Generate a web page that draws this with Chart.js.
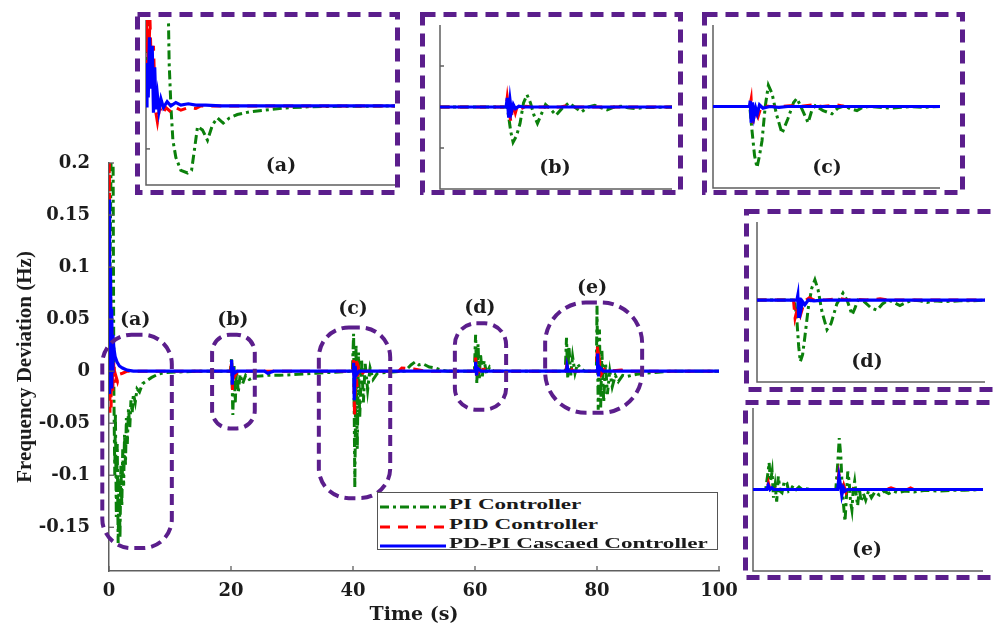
<!DOCTYPE html>
<html>
<head>
<meta charset="utf-8">
<script src="https://cdn.jsdelivr.net/npm/chart.js@4.4.0/dist/chart.umd.min.js"></script>
<style>
  html, body { margin: 0; padding: 0; background: #fff; }
  body { width: 997px; height: 626px; overflow: hidden; position: relative; }
  #mainBox { position: absolute; left: 0; top: 0; width: 997px; height: 626px; }
  .inset { position: absolute; }
  #legend { position: absolute; left: 377px; top: 492px; width: 339px; height: 56px;
            border: 1px solid #555; background: #fff; }
  .row { position: absolute; left: 0; width: 339px; height: 20px; }
  .row svg { position: absolute; left: 0; top: 0; }
  .row span { position: absolute; left: 71px; top: 0; line-height: 20px; white-space: nowrap;
              font: bold 14px "Liberation Serif", serif; color: #1a1a1a;
              transform: scaleX(1.65); transform-origin: left center; }
</style>
</head>
<body>
<div id="mainBox"><canvas id="mainChart"></canvas></div>
<div id="legend"></div>

<script>
// ---- data ----
const seriesNames = ['PI Controller', 'PID Controller', 'PD-PI Cascaed Controller'];
const xTickValues = [0, 20, 40, 60, 80, 100];
const yTickValues = [-0.15, -0.1, -0.05, 0, 0.05, 0.1, 0.15, 0.2];

// main plot, [time s, deviation Hz]
const mainPI = [
  [0,0],[0.5,0.3],[0.65,0.24],[0.8,-0.02],[0.95,-0.1],[1.05,-0.04],[1.2,-0.14],[1.35,-0.07],[1.5,-0.165],
  [1.65,-0.1],[1.8,-0.16],[1.95,-0.09],[2.1,-0.13],[2.25,-0.075],[2.4,-0.11],[2.55,-0.06],[2.7,-0.09],
  [2.85,-0.045],[3.0,-0.07],[3.2,-0.035],[3.4,-0.055],[3.6,-0.028],[3.8,-0.04],[4.0,-0.022],[4.3,-0.03],
  [4.6,-0.017],[5.0,-0.02],[5.5,-0.012],[6.0,-0.01],[7.0,-0.006],[8.0,-0.003],[9.0,-0.0015],[10,-0.001],
  [15,0],[19.9,0],[20.1,0.013],[20.3,-0.042],[20.5,0.005],[20.7,-0.03],[20.9,0],[21.2,-0.02],[21.5,-0.003],
  [21.9,-0.012],[22.4,-0.004],[23,-0.008],[24,-0.005],[26,-0.004],[28,-0.004],[31,-0.003],[34,-0.002],
  [37,-0.001],[39.9,0],[40.1,0.036],[40.3,-0.112],[40.5,0.025],[40.7,-0.075],[40.9,0.018],[41.1,-0.045],
  [41.4,0.012],[41.7,-0.03],[42.0,0.007],[42.4,-0.018],[42.8,0.003],[43.3,-0.008],[44,-0.002],[46,-0.001],
  [48.5,0],[49.5,0.006],[50.2,0.009],[50.8,0.006],[51.5,0.007],[52.5,0.004],[53.5,0.003],[54.5,0.001],
  [55.5,0],[59.9,0],[60.1,0.035],[60.3,-0.012],[60.5,0.026],[60.7,-0.008],[60.9,0.017],[61.2,-0.005],
  [61.5,0.01],[61.9,-0.002],[62.4,0.004],[63,0],[74.8,0],[75.0,0.032],[75.2,-0.006],[75.4,0.024],
  [75.7,-0.004],[76.0,0.014],[76.4,-0.002],[76.8,0.007],[77.4,0.002],[78,0],[79.9,0],[80.0,0.063],
  [80.2,-0.037],[80.4,0.04],[80.6,-0.035],[80.8,0.02],[81.1,-0.03],[81.4,0.008],[81.7,-0.022],[82.1,0],
  [82.5,-0.015],[83,-0.004],[83.5,-0.01],[84.2,-0.004],[85,-0.005],[86.5,-0.003],[88,-0.002],[90,-0.001],
  [92,0],[100,0]
];
const mainPID = [
  [0,0],[0.05,0.25],[0.15,-0.04],[0.25,0.1],[0.35,-0.035],[0.45,0.04],[0.6,-0.02],[0.8,0.01],[1.0,-0.012],
  [1.2,-0.006],[1.4,-0.01],[1.7,-0.003],[2.2,-0.002],[3,0],[19.95,0],[20.1,0.011],[20.25,-0.018],
  [20.45,0.004],[20.7,-0.004],[21.2,0.001],[22,0],[39.95,0],[40.1,0.012],[40.25,-0.044],[40.45,0.01],
  [40.65,-0.015],[40.9,0.004],[41.3,-0.003],[42,0],[47.5,0],[48,0.003],[50,0.002],[52,0],[59.95,0],
  [60.1,0.013],[60.3,-0.004],[60.5,0.007],[60.8,0],[61.5,0.002],[62.5,0],[74.9,0],[75.05,0.006],[75.3,0],
  [75.6,0.003],[76.2,0],[79.9,0],[80.05,0.025],[80.25,-0.006],[80.45,0.008],[80.7,-0.003],[81.2,0.002],
  [82,0],[84,0.001],[85.5,0],[100,0]
];
const mainCascade = [
  [0,0],[0.05,0.165],[0.15,-0.022],[0.25,0.1],[0.35,-0.015],[0.45,0.06],[0.55,0],[0.65,0.035],[0.8,0.022],
  [1.0,0.014],[1.3,0.009],[1.7,0.005],[2.2,0.003],[3,0.001],[4,0],[20.0,0],[20.1,0.011],[20.2,-0.013],
  [20.35,0.004],[20.5,-0.002],[21,0],[25.5,0],[26,-0.002],[27,0],[40.0,0],[40.1,0.008],[40.2,-0.028],
  [40.35,0.005],[40.5,-0.004],[41,0],[60.0,0],[60.1,0.009],[60.25,-0.004],[60.4,0.003],[61,0],[75.0,0],
  [75.1,0.005],[75.3,0],[80.0,0],[80.1,0.017],[80.25,-0.005],[80.4,0.004],[81,0],[100,0]
];

// zoomed insets, [% of window, relative deviation]
const insetA_PI = [
  [0,0],[0.4,0.9],[3,1.4],[8.8,1.4],[9.3,0.5],[10,0],[10.8,-0.4],[12,-0.6],[14,-0.75],[16.7,-0.78],
  [18.3,-0.75],[19.5,-0.5],[20.7,-0.24],[22.7,-0.28],[24.7,-0.4],[26.7,-0.22],[28.7,-0.14],[31,-0.2],
  [33.5,-0.14],[36.7,-0.1],[41.4,-0.07],[47.4,-0.05],[55.4,-0.025],[65,-0.01],[77,-0.005],[100,0]
];
const insetA_PID = [
  [0,0],[0.3,1.05],[1.0,0.5],[1.6,1.0],[2.3,0.3],[3.0,0.7],[3.8,-0.05],[4.6,-0.19],[5.5,-0.02],[6.5,-0.1],
  [8,-0.02],[10,-0.07],[12,-0.02],[14,-0.05],[17,-0.02],[20,-0.03],[22,0],[100,0]
];
const insetA_Cascade = [
  [0,0],[0.4,0.5],[0.9,0.1],[1.4,0.8],[2.0,0.2],[2.5,0.7],[3.0,-0.08],[3.5,0.45],[4.0,-0.04],[4.6,0.12],
  [5.2,-0.06],[6,0.08],[7,-0.02],[8.5,0.05],[10,0],[12,0.04],[14,0.01],[17,0.025],[20,0.01],[24,0.01],
  [30,0],[100,0]
];
const insetB_PI = [
  [0,0],[29,0],[30.5,-0.3],[31.5,-0.43],[33,-0.35],[34.5,-0.2],[36,0.05],[37.5,0.15],[39,0.05],[40.5,-0.1],
  [42,-0.2],[43.5,-0.1],[45.5,0.03],[47.5,-0.02],[50,-0.1],[52.5,-0.02],[55.5,0.05],[58,0],[61,-0.06],
  [64,0],[66.7,0.02],[69.5,-0.01],[72,-0.035],[75,0],[78,0.01],[81,-0.01],[84,-0.02],[88,-0.005],
  [93,-0.005],[100,0]
];
const insetB_PID = [
  [0,0],[28.5,0],[29,0.12],[30,-0.1],[30.6,-0.18],[31.5,0.05],[32.5,-0.07],[33.5,0.03],[35,-0.02],
  [37,0.01],[40,0],[52,0],[55,0.02],[58,0],[100,0]
];
const insetB_Cascade = [
  [0,0],[28.5,0],[29,0.11],[29.6,-0.13],[30.2,0.08],[30.8,-0.06],[31.6,0.03],[32.5,-0.02],[34,0.01],
  [36,0],[100,0]
];
const insetC_PI = [
  [0,0],[16.2,0],[17.2,-0.3],[18.3,-0.6],[19.4,-0.75],[20.5,-0.6],[21.6,-0.42],[23,0],[24.4,0.26],
  [26,0.16],[28,-0.1],[30.4,-0.33],[33,-0.15],[35.5,0.05],[37,0.1],[39.5,-0.05],[41.9,-0.2],[43.5,-0.05],
  [45,0.01],[48.5,-0.05],[52.4,-0.09],[55,-0.02],[58,0.01],[60.5,-0.03],[63.4,-0.05],[66,-0.01],[69,0],
  [73,-0.01],[78,-0.02],[83,-0.01],[87,0],[92,-0.01],[100,0]
];
const insetC_PID = [
  [0,0],[16.2,0],[16.8,0.09],[17.4,-0.23],[18.5,-0.05],[19.8,-0.13],[21,-0.02],[22,0.01],[25,0],[30,0],
  [34,0.01],[38,0],[44,0.02],[48,0],[54.6,0.02],[58,0],[100,0]
];
const insetC_Cascade = [
  [0,0],[16.1,0],[16.4,0.07],[16.8,-0.2],[17.4,0.05],[18.1,-0.12],[18.8,-0.02],[19.5,-0.09],[20.5,0.02],
  [22,-0.02],[25,0],[29,-0.01],[33,0],[100,0]
];
const insetD_PI = [
  [0,0],[16.5,0],[17.5,-0.26],[18.3,-0.6],[19,-0.79],[20,-0.7],[21,-0.47],[22.5,-0.1],[24,0.15],
  [25.4,0.26],[26.8,0.13],[28.5,-0.15],[30.7,-0.38],[32.5,-0.3],[35,-0.05],[37.7,0.09],[39.5,0],
  [41.7,-0.19],[43,-0.1],[44.3,0],[47,-0.02],[50,-0.1],[52.6,-0.13],[55,-0.05],[57.5,0],[60,-0.03],
  [62.7,-0.07],[65.5,-0.03],[68.4,0],[71.5,-0.01],[74.6,-0.03],[78,-0.01],[82,-0.02],[89,-0.01],
  [95,-0.01],[100,0]
];
const insetD_PID = [
  [0,0],[16,0],[16.7,-0.23],[17.8,-0.1],[19,-0.2],[20,-0.1],[21.5,0],[23,0.03],[25,0],[30,0],[36,0.02],
  [40,0],[44,0.01],[48,0],[54,0.015],[58,0],[100,0]
];
const insetD_Cascade = [
  [0,0],[17.5,0],[17.9,0.06],[18.3,-0.23],[18.8,0.03],[19.3,-0.12],[20,-0.02],[21,-0.06],[22.5,0],
  [25,-0.01],[29,0],[100,0]
];
const insetE_PI = [
  [0,0],[5.5,0],[6.5,0.2],[7,0.33],[7.6,0.1],[8.3,0.22],[8.9,-0.1],[9.6,0.05],[10.3,-0.15],[11,0.16],
  [11.8,-0.02],[12.6,-0.04],[13.6,0.1],[14.7,0.08],[15.5,-0.02],[16.5,0],[17.5,0.05],[18.8,0],[20,0.03],
  [21.3,0],[23,0.01],[25,0],[36,0],[36.8,0.3],[37.5,0.63],[38.2,0.4],[38.8,0],[39.4,-0.2],[40,-0.39],
  [40.6,-0.1],[41.2,0.22],[41.8,0.1],[42.4,-0.15],[43,-0.25],[43.6,0],[44.2,0.1],[44.8,-0.05],[45.5,-0.2],
  [46.2,0.02],[47,-0.15],[48,-0.05],[49,-0.13],[50.2,-0.02],[51.5,-0.1],[53,-0.03],[55,-0.07],[57,-0.02],
  [59,-0.05],[61,-0.02],[63,-0.04],[66,-0.02],[70,-0.03],[75,-0.01],[80,-0.02],[86,-0.01],[92,-0.01],
  [100,0]
];
const insetE_PID = [
  [0,0],[6,0],[6.7,0.08],[7.5,-0.02],[8.5,0.03],[10,0],[36.5,0],[37.3,0.2],[38,0.1],[38.7,-0.06],
  [39.5,0.05],[40.5,-0.04],[42,0.02],[44,0],[58,0],[60,0.02],[62,0],[67,0],[68.5,0.02],[70,0],[100,0]
];
const insetE_Cascade = [
  [0,0],[6,0],[6.6,0.05],[7.4,0],[8.2,0.02],[9,0],[36.8,0],[37.4,0.16],[38,0.06],[38.6,-0.07],
  [39.3,0.02],[40,-0.02],[41,0],[100,0]
];

// ---- styling ----
const GREEN = '#0b800b';
const RED = '#ff0000';
const BLUE = '#0000ff';
const PURPLE = '#5b1e8c';
const AXIS = '#5f5f5f';
const TEXT = '#1c1c1c';
const lineStyles = [
  { color: GREEN, dash: [9, 4, 3, 4], width: 3 },
  { color: RED, dash: [10, 8], width: 3 },
  { color: BLUE, dash: [], width: 3.2 }
];

const toXY = pts => pts.map(p => ({ x: p[0], y: p[1] }));

const makeDatasets = (pi, pid, cas) => [
  { label: seriesNames[0], data: toXY(pi), borderColor: GREEN, borderDash: lineStyles[0].dash, borderWidth: lineStyles[0].width, order: 3 },
  { label: seriesNames[1], data: toXY(pid), borderColor: RED, borderDash: lineStyles[1].dash, borderWidth: lineStyles[1].width, order: 2 },
  { label: seriesNames[2], data: toXY(cas), borderColor: BLUE, borderWidth: lineStyles[2].width, order: 1 }
];

// dashed rounded marks on the main plot (data units)
const regions = [
  { label: '(a)', x0: -1.1, x1: 10.3, y0: 0.035, y1: -0.17, lx: 4.3, ly: 0.049 },
  { label: '(b)', x0: 16.9, x1: 23.9, y0: 0.035, y1: -0.055, lx: 20.3, ly: 0.049 },
  { label: '(c)', x0: 34.4, x1: 46.1, y0: 0.042, y1: -0.122, lx: 40.0, ly: 0.06 },
  { label: '(d)', x0: 56.7, x1: 65.1, y0: 0.046, y1: -0.037, lx: 60.8, ly: 0.061 },
  { label: '(e)', x0: 71.5, x1: 87.4, y0: 0.066, y1: -0.040, lx: 79.2, ly: 0.080 }
];

const innerTicks = {
  id: 'innerTicks',
  afterDraw(chart) {
    const { ctx, chartArea, scales } = chart;
    ctx.save();
    ctx.strokeStyle = AXIS;
    ctx.lineWidth = 1.3;
    scales.x.ticks.forEach(t => {
      const px = scales.x.getPixelForValue(t.value);
      ctx.beginPath(); ctx.moveTo(px, chartArea.bottom); ctx.lineTo(px, chartArea.bottom - 5); ctx.stroke();
    });
    scales.y.ticks.forEach(t => {
      const py = scales.y.getPixelForValue(t.value);
      ctx.beginPath(); ctx.moveTo(chartArea.left, py); ctx.lineTo(chartArea.left + 5, py); ctx.stroke();
    });
    ctx.restore();
  }
};

const regionMarks = {
  id: 'regionMarks',
  afterDatasetsDraw(chart) {
    const { ctx, scales } = chart;
    ctx.save();
    regions.forEach(r => {
      const x0 = scales.x.getPixelForValue(r.x0), x1 = scales.x.getPixelForValue(r.x1);
      const y0 = scales.y.getPixelForValue(r.y0), y1 = scales.y.getPixelForValue(r.y1);
      const w = x1 - x0, h = y1 - y0;
      const rad = 0.42 * Math.min(w, h);
      ctx.strokeStyle = PURPLE;
      ctx.lineWidth = 4;
      ctx.setLineDash([11, 6]);
      ctx.beginPath();
      ctx.roundRect(x0, y0, w, h, rad);
      ctx.stroke();
      ctx.setLineDash([]);
      ctx.fillStyle = TEXT;
      ctx.font = 'bold 19px "DejaVu Serif"';
      ctx.textAlign = 'center';
      ctx.textBaseline = 'middle';
      ctx.fillText(r.label, scales.x.getPixelForValue(r.lx), scales.y.getPixelForValue(r.ly));
    });
    ctx.restore();
  }
};

const tickFont = { family: 'DejaVu Serif', weight: 'bold', size: 18 };

new Chart(document.getElementById('mainChart'), {
  type: 'line',
  data: { datasets: makeDatasets(mainPI, mainPID, mainCascade) },
  options: {
    responsive: true,
    maintainAspectRatio: false,
    animation: false,
    layout: { padding: { left: 0, top: 163, right: 278, bottom: 0 } },
    elements: { point: { radius: 0 }, line: { tension: 0 } },
    plugins: { legend: { display: false }, tooltip: { enabled: false } },
    scales: {
      x: {
        type: 'linear', min: 0, max: 100,
        afterBuildTicks: s => { s.ticks = xTickValues.map(v => ({ value: v })); },
        afterFit: s => { s.height = 55; },
        ticks: { font: tickFont, color: TEXT, padding: 2, maxRotation: 0 },
        grid: { display: false },
        border: { color: AXIS, width: 1.5 },
        title: { display: true, text: 'Time (s)', color: TEXT, padding: { top: 0, bottom: 0 },
                 font: { family: 'DejaVu Serif', weight: 'bold', size: 19 } }
      },
      y: {
        type: 'linear', min: -0.192, max: 0.2,
        afterBuildTicks: s => { s.ticks = yTickValues.map(v => ({ value: v })); },
        afterFit: s => { s.width = 109; },
        ticks: { font: tickFont, color: TEXT, padding: 11, callback: v => String(Number(v.toFixed(2))) },
        grid: { display: false },
        border: { color: AXIS, width: 1.5 },
        title: { display: true, text: 'Frequency Deviation (Hz)', color: TEXT, padding: { top: 13, bottom: 0 },
                 font: { family: 'Liberation Serif', weight: 'bold', size: 21 } }
      }
    }
  },
  plugins: [innerTicks, regionMarks]
});

// ---- insets ----
const insetFrame = {
  id: 'insetFrame',
  beforeDatasetsDraw(chart, args, opts) {
    const { ctx, width, height, chartArea, scales } = chart;
    ctx.save();
    ctx.strokeStyle = PURPLE;
    ctx.lineWidth = 5;
    ctx.setLineDash([13, 8]);
    ctx.strokeRect(2.5, 2.5, width - 5, height - 5);
    ctx.setLineDash([]);
    ctx.strokeStyle = AXIS;
    ctx.lineWidth = 1.5;
    ctx.beginPath();
    ctx.moveTo(chartArea.left, chartArea.top);
    ctx.lineTo(chartArea.left, chartArea.bottom);
    ctx.lineTo(chartArea.right, chartArea.bottom);
    ctx.stroke();
    (opts.ticks || []).forEach(v => {
      const py = scales.y.getPixelForValue(v);
      ctx.beginPath(); ctx.moveTo(chartArea.left, py); ctx.lineTo(chartArea.left + 4, py); ctx.stroke();
    });
    ctx.fillStyle = TEXT;
    ctx.font = 'bold 19px "DejaVu Serif"';
    ctx.textAlign = 'center';
    ctx.textBaseline = 'middle';
    ctx.fillText(opts.label, opts.lx, opts.ly);
    ctx.restore();
  }
};

const insets = [
  { label: '(a)', box: [135, 12, 265, 183], pad: [11, 8, 5, 10], y: [-0.92, 1], lab: [146, 154], ticks: [-0.5], data: [insetA_PI, insetA_PID, insetA_Cascade] },
  { label: '(b)', box: [420, 12, 263, 183], pad: [20, 13, 11, 6], y: [-1, 1], lab: [135, 156], ticks: [-0.5, 0.5], data: [insetB_PI, insetB_PID, insetB_Cascade] },
  { label: '(c)', box: [702, 12, 263, 183], pad: [11, 13, 25, 7], y: [-1, 1], lab: [125, 156], ticks: [], data: [insetC_PI, insetC_PID, insetC_Cascade] },
  { label: '(d)', box: [744, 209, 270, 183], pad: [13, 13, 29, 10], y: [-1.05, 1], lab: [123, 153], ticks: [], data: [insetD_PI, insetD_PID, insetD_Cascade] },
  { label: '(e)', box: [743, 400, 271, 180], pad: [10, 8, 31, 9], y: [-1, 1], lab: [124, 150], ticks: [], data: [insetE_PI, insetE_PID, insetE_Cascade] }
];

insets.forEach(ins => {
  const div = document.createElement('div');
  div.className = 'inset';
  div.style.left = ins.box[0] + 'px';
  div.style.top = ins.box[1] + 'px';
  div.style.width = ins.box[2] + 'px';
  div.style.height = ins.box[3] + 'px';
  const cv = document.createElement('canvas');
  div.appendChild(cv);
  document.body.appendChild(div);
  new Chart(cv, {
    type: 'line',
    data: { datasets: makeDatasets(ins.data[0], ins.data[1], ins.data[2]) },
    options: {
      responsive: true,
      maintainAspectRatio: false,
      animation: false,
      layout: { padding: { left: ins.pad[0], top: ins.pad[1], right: ins.pad[2], bottom: ins.pad[3] } },
      elements: { point: { radius: 0 }, line: { tension: 0 } },
      plugins: {
        legend: { display: false }, tooltip: { enabled: false },
        insetFrame: { label: ins.label, lx: ins.lab[0], ly: ins.lab[1], ticks: ins.ticks }
      },
      scales: {
        x: { type: 'linear', min: 0, max: 100, display: false },
        y: { type: 'linear', min: ins.y[0], max: ins.y[1], display: false }
      }
    },
    plugins: [insetFrame]
  });
});

// ---- legend ----
const legend = document.getElementById('legend');
seriesNames.forEach((name, i) => {
  const st = lineStyles[i];
  const row = document.createElement('div');
  row.className = 'row';
  row.style.top = (4 + i * 19.5) + 'px';
  row.innerHTML =
    '<svg width="70" height="20"><line x1="2" y1="10" x2="68" y2="10" stroke="' + st.color +
    '" stroke-width="' + st.width + '" stroke-dasharray="' + (st.dash.length ? st.dash.join(' ') : 'none') + '"/></svg>' +
    '<span>' + name + '</span>';
  legend.appendChild(row);
});
</script>
</body>
</html>
